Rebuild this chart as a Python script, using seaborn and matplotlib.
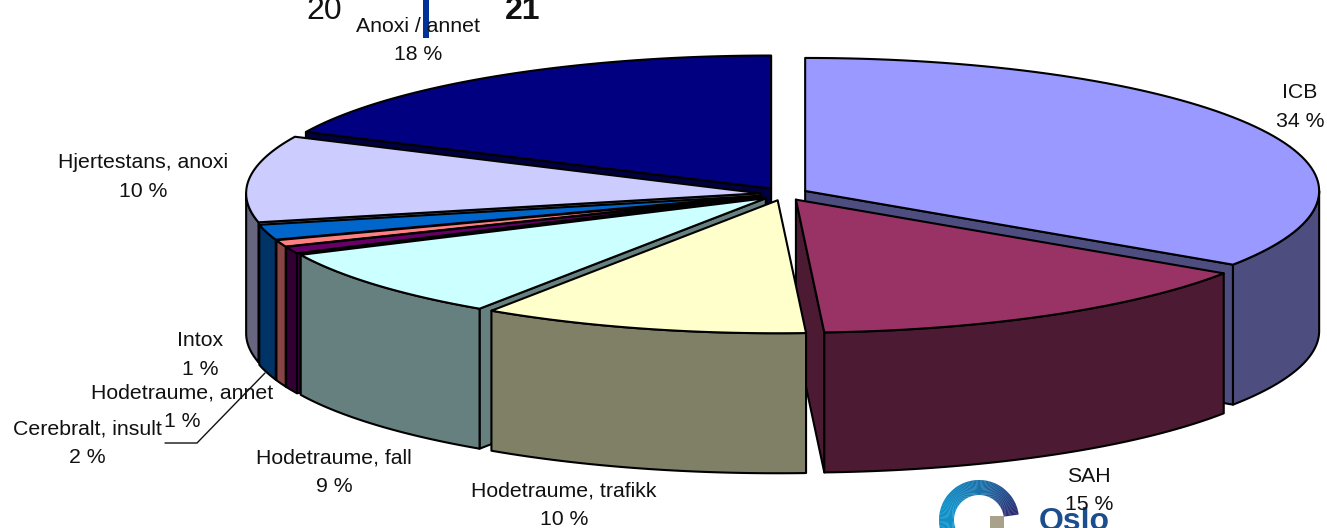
import numpy as np
import matplotlib
matplotlib.use("Agg")
import matplotlib.pyplot as plt
from matplotlib.colors import LinearSegmentedColormap
from matplotlib.patches import Wedge, Rectangle
import seaborn as sns

sns.set_theme(style="white")
plt.rcParams['font.family'] = ['Liberation Sans', 'DejaVu Sans']

# data
categories = ["ICB", "SAH", "Hodetraume, trafikk", "Hodetraume, fall", "Intox",
              "Hodetraume, annet", "Cerebralt, insult", "Hjertestans, anoxi", "Anoxi / annet"]
shares = [34.35, 14.77, 10.28, 8.6, 0.83, 0.81, 1.86, 10.49, 18.01]
top_colors = ["#9999FF", "#993366", "#FFFFCC", "#CCFFFF", "#660066",
              "#FF8080", "#0066CC", "#CCCCFF", "#000080"]
wall_colors = ["#4D4D80", "#4D1A33", "#808066", "#668080", "#330033",
               "#884444", "#003366", "#666680", "#000040"]
draw_order = [8, 0, 7, 6, 5, 4, 3, 1, 2]

# pie geometry (pixels)
CX, CY, RX, RY, DEPTH = 784, 194, 514, 133, 140
EXPLODE, TILT = 24, 0.27

fig = plt.figure(figsize=(13.27, 5.28), dpi=100)
ax = fig.add_axes([0, 0, 1, 1])
ax.set_xlim(0, 1327)
ax.set_ylim(528, 0)
ax.axis("off")
pal_top = sns.color_palette(top_colors)
pal_wall = sns.color_palette(wall_colors)

ends = np.cumsum(shares) / sum(shares) * 360
starts = np.concatenate([[0], ends[:-1]])
LW = 1.5

def rim(a, b, ox, oy, n=80):
    t = np.radians(np.linspace(a, b, n))
    return ox + RX * np.sin(t), oy - RY * np.cos(t)

def poly(xs, ys, color):
    ax.fill(xs, ys, facecolor=color, edgecolor="black", linewidth=LW, joinstyle="round", zorder=2)

for i in draw_order:
    a, b = starts[i], ends[i]
    mid = np.radians((a + b) / 2)
    ox = CX + EXPLODE * np.sin(mid)
    oy = CY - EXPLODE * TILT * np.cos(mid)
    # cut faces that look towards the viewer
    for ang, visible in ((a, 180 < a < 360), (b, 0 < b < 180)):
        if visible:
            rx, ry = rim(ang, ang, ox, oy, 1)
            poly([ox, rx[0], rx[0], ox], [oy, ry[0], ry[0] + DEPTH, oy + DEPTH], pal_wall[i])
    # outer wall
    lo, hi = max(a, 90), min(b, 270)
    if hi > lo:
        wx, wy = rim(lo, hi, ox, oy)
        poly(np.r_[wx, wx[::-1]], np.r_[wy, wy[::-1] + DEPTH], pal_wall[i])
    # top
    tx, ty = rim(a, b, ox, oy)
    poly(np.r_[ox, tx], np.r_[oy, ty], pal_top[i])

# leader line of the small slice
ax.plot([265, 197, 165], [373, 443, 443], color="#111111", lw=1.0, zorder=3)

# header fragments from the slide
ax.text(324, 11, "20", fontsize=23, ha="center", va="center", color="#111111", zorder=3)
ax.text(523, 11, "21", fontsize=23, fontweight="bold", ha="center", va="center", color="#111111", zorder=3)
ax.add_patch(Rectangle((423, 0), 6, 38, facecolor="#003399", edgecolor="none", zorder=3))

# logo
ring = LinearSegmentedColormap.from_list("ring", ["#2A2A70", "#1A6FA8", "#0E8FC8", "#0E8FC8"])
for k, ang in enumerate(np.linspace(8, 230, 112)):
    ax.add_patch(Wedge((979, 520), 40, -ang - 2.2, -ang + 0.2, width=15,
                       facecolor=ring(k / 111), edgecolor="none", zorder=3))
ax.add_patch(Rectangle((990, 516), 14, 14, facecolor="#A8A28C", edgecolor="none", zorder=3))
ax.text(1074, 522, "Oslo", fontsize=23, fontweight="bold", ha="center", va="center",
        color="#1C4E8E", zorder=3)

# labels
percent_labels = [f"{round(v)} %" for v in shares]
label_x = [1300, 1089, 564, 334, 200, 182, 87, 143, 418]
label_y = [93, 476, 491, 458, 341, 393, 429, 163, 26]
for name, pct, x, y in zip(categories, percent_labels, label_x, label_y):
    ax.text(x, y, name, fontsize=15.3, ha="center", va="center", color="#111111", zorder=4)
    ax.text(x, y + 28.5, pct, fontsize=15.3, ha="center", va="center", color="#111111", zorder=4)

fig.savefig("out.png", dpi=100, facecolor="white")
